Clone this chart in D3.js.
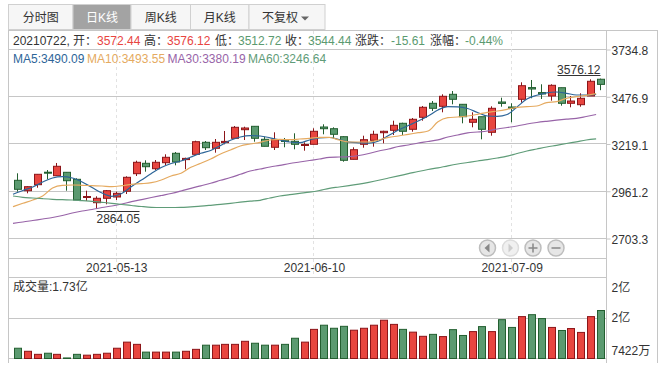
<!DOCTYPE html>
<html lang="zh">
<head>
<meta charset="UTF-8">
<title>K线图</title>
<script src="https://d3js.org/d3.v7.min.js"></script>
<style>
    body { margin: 0; background: #fff; }
    svg { display: block; }
    text { font-family: "Liberation Sans", "Noto Sans CJK SC", sans-serif; font-size: 12px; fill: #333; }
</style>
</head>
<body>
<div id="chart"></div>
<script>
const dates = ["2021-04-26","2021-04-27","2021-04-28","2021-04-29","2021-04-30","2021-05-06","2021-05-07","2021-05-10","2021-05-11","2021-05-12",
    "2021-05-13","2021-05-14","2021-05-17","2021-05-18","2021-05-19","2021-05-20","2021-05-21","2021-05-24","2021-05-25","2021-05-26",
    "2021-05-27","2021-05-28","2021-05-31","2021-06-01","2021-06-02","2021-06-03","2021-06-04","2021-06-07","2021-06-08","2021-06-09",
    "2021-06-10","2021-06-11","2021-06-15","2021-06-16","2021-06-17","2021-06-18","2021-06-21","2021-06-22","2021-06-23","2021-06-24",
    "2021-06-25","2021-06-28","2021-06-29","2021-06-30","2021-07-01","2021-07-02","2021-07-05","2021-07-06","2021-07-07","2021-07-08",
    "2021-07-09","2021-07-12","2021-07-13","2021-07-14","2021-07-15","2021-07-16","2021-07-19","2021-07-20","2021-07-21","2021-07-22"];

const open = [3020.9,2964.2,2997,3065.1,3046,3064.6,3026.4,2927,2898.7,2922.7,
    2929.8,2960.9,3057,3113.7,3084.2,3117,3168.3,3133.9,3162.8,3228.3,
    3195.6,3226.7,3250.2,3297.1,3315.6,3244.7,3201.1,3240.9,3233.8,3210.9,
    3217.4,3311.8,3302.5,3258.9,3135.5,3217.4,3239.2,3280.7,3293.8,3332,
    3299.3,3364.8,3441.2,3424.8,3490.3,3435.7,3337.5,3368,3282.9,3448.3,
    3421,3463,3526.9,3499.6,3481,3526.3,3441.2,3433.6,3481,3572.44];
const close = [2971.8,2986,3053.7,3059.7,3097.4,3018.7,2913.4,2932.5,2922.7,2964.2,
    2950,3037.3,3119.2,3095.1,3119.2,3146.5,3120.8,3140.5,3231.6,3198.9,
    3228.3,3233.3,3310.2,3306.4,3250.2,3206.5,3242.5,3232.7,3217.4,3216.3,
    3288.4,3302.5,3272,3130.1,3187.9,3242.5,3272,3288.4,3321.1,3288.4,
    3353.9,3419.4,3413.9,3479.4,3463,3368,3353.9,3299.3,3413.9,3440.6,
    3413.4,3537.2,3519.2,3492,3539.4,3441.2,3453.7,3468.5,3561.3,3544.44];
const high = [3059.1,2988,3053.7,3077.1,3115.4,3064.6,3031.9,2964.2,2933.6,2968,
    2958.7,3042.8,3127.9,3130.1,3131.7,3162.8,3175.4,3144.3,3237.1,3235.4,
    3246.3,3290,3317.3,3313.5,3315.6,3258.9,3282.9,3251.8,3277.4,3228.3,
    3304.7,3326.6,3310.2,3261.1,3201.1,3264.3,3291.6,3291.6,3346.2,3335.3,
    3361,3426.5,3453.7,3490.3,3508.3,3435.7,3392,3368,3424.8,3471.8,
    3441.2,3555.8,3568.4,3544.9,3544.9,3526.3,3481,3495.8,3572.2,3576.12];
const low = [2959.3,2950,2980.5,3026.4,3046,2964.2,2913.4,2908,2864.05,2889.9,
    2913.4,2946.1,3044.4,3067.9,3077.1,3104.4,3102.8,3081,3162.8,3186.3,
    3171.6,3217.4,3250.2,3240.9,3231.6,3206.5,3186.3,3201.1,3190.1,3182.5,
    3217.4,3272,3248,3122.5,3135.5,3198.9,3204.3,3222.9,3268.2,3268.2,
    3286.2,3346.2,3399.2,3392,3435.7,3332,3310.2,3244.7,3264.3,3422.6,
    3337.5,3444.5,3468.5,3464.7,3455.4,3428.1,3419.4,3422.6,3481,3512.72];

const ma5 = [2944.5,2965.3,2984.4,3011.6,3033.5,3040.6,3033.5,3011.6,2981.6,2951.6,
    2933.6,2948.9,2987.1,3022.6,3058,3090.8,3112.6,3126.3,3148.1,3168.3,
    3183.6,3210.9,3239.2,3257.3,3264.9,3262.7,3252.9,3240.9,3230,3226.1,
    3240.9,3252.9,3254.5,3243.6,3228.9,3225.6,3223.4,3235.4,3265.5,3295.5,
    3320,3344.6,3371.9,3404.6,3423.2,3422.1,3412.8,3391,3371.9,3370.2,
    3380.1,3421,3464.7,3484.9,3498.5,3502.9,3495.8,3486.5,3486.5,3490.09];
const ma10 = [2876.8,2895.4,2913.4,2935.2,2978.9,2993.6,2995.3,2993.6,2991.4,2989.8,
    2986,2991.4,2999.1,3002.4,3007.8,3022.6,3044.4,3059.1,3091.9,3113.7,
    3137.2,3164.5,3186.3,3208.1,3219.1,3228.3,3240.9,3244.7,3242.5,3246.3,
    3250.2,3255.6,3255.6,3240.9,3230,3230,3230,3240.9,3255.6,3262.7,
    3272,3280.7,3290,3340.8,3362.6,3366.4,3371.9,3381.2,3392.1,3399.2,
    3408.4,3419.4,3422.7,3426.5,3444.5,3449.9,3468.5,3477.2,3484.9,3493.55];
const ma30 = [2786.2,2793.3,2801.5,2809.7,2817.9,2828.8,2842.5,2853.4,2861.6,2872.5,
    2880.7,2891.6,2904.1,2915.6,2927,2938,2948.9,2962.5,2977.3,2990.9,
    3004.6,3021,3036.2,3053.7,3071.7,3082.6,3093.5,3102.8,3112.6,3120.8,
    3129,3137.2,3146.4,3148.1,3149.8,3156.3,3167.2,3180.8,3191.8,3205.4,
    3213.6,3224.5,3232.7,3242,3257.3,3268.2,3280.2,3284.5,3290,3300.9,
    3309.1,3317.3,3328.2,3336.4,3343,3349,3354.4,3358.8,3369.1,3380.19];
const ma60 = [2935.2,2928.2,2924.3,2920.5,2917.2,2915,2913.4,2909.6,2906.3,2900.9,
    2895.4,2888.9,2883.4,2877.9,2873.6,2872.5,2872.5,2873,2876.3,2879.6,
    2884.5,2889.9,2895.4,2901.4,2906.9,2911.8,2924.3,2935.2,2942.3,2949.4,
    2956,2965.2,2977.3,2984.4,2992,3000.2,3010,3021,3033.5,3045.5,
    3056.9,3069,3079.9,3089.2,3100.1,3109.9,3118.1,3126.3,3133.9,3142.6,
    3152.5,3167.2,3180.8,3191.8,3202.7,3212,3221.8,3231.1,3240.9,3246.64];

// 成交量, 单位亿
const volume = [.37,.26,.15,.19,.15,.02,.15,.12,.15,.19,
    .37,.59,.51,.23,.23,.23,.23,.26,.33,.48,
    .48,.51,.51,.62,.55,.48,.48,.51,.73,.59,
    1.05,1.2,1.09,1.16,1.02,1.09,1.2,1.38,1.23,1.05,
    .95,.8,.87,.79,1.04,.83,.97,1.15,.97,1.4,
    1.12,1.51,1.58,1.44,1.12,1.01,1.08,.94,1.51,1.73];

const priceTicks = [3734.8, 3476.9, 3219.1, 2961.2, 2703.3];
const volTicks = [2.92, 1.46, 0];
const volTickLabels = ["2亿", "2亿", "7422万"];
const volTickShift = [10, 0, -8];
const dateTicks = ["2021-05-13", "2021-06-10", "2021-07-09"];
const tabs = ["分时图", "日K线", "周K线", "月K线", "不复权"];
const infoLabels = ["开：", "高：", "低：", "收：", "涨跌：", "涨幅："];
const infoValues = ["3572.44", "3576.12", "3512.72", "3544.44", "-15.61", "-0.44%"];
const maNames = ["MA5", "MA10", "MA30", "MA60"];
const maLatest = ["3490.09", "3493.55", "3380.19", "3246.64"];

const RED = "#e8453f", RED_DARK = "#8c1519", GREEN = "#5b9a70", GREEN_DARK = "#235f30";
const GRID = "#c6c6c6";
const maColors = ["#2d6598", "#e5aa60", "#9864a8", "#5f9c78"];

const svg = d3.select("#chart").append("svg").attr("width", 665).attr("height", 370);

const x = d3.scaleBand().domain(dates).range([13, 606]);
const xc = d => Math.floor(x(d) + x.bandwidth() / 2 - 0.5) + 0.5;
const y = d3.scaleLinear().domain([2703.3, 3734.8]).range([238.5, 49.5]);
const yVol = d3.scaleLinear().domain([0, 2.92]).range([358.5, 277.5]);
const crisp = v => Math.round(v - 0.5) + 0.5;

const hline = (yy, x1, x2) => svg.append("line").attr("x1", x1).attr("x2", x2)
    .attr("y1", yy).attr("y2", yy).attr("stroke", GRID);
const vline = (xx, y1, y2) => svg.append("line").attr("x1", xx).attr("x2", xx)
    .attr("y1", y1).attr("y2", y2).attr("stroke", GRID);

// tabs
const tabEdges = [8.5, 73, 131, 190.5, 249, 325];
tabs.forEach((t, i) => {
    svg.append("rect").attr("x", tabEdges[i]).attr("y", 4.5)
        .attr("width", tabEdges[i + 1] - tabEdges[i]).attr("height", 25)
        .attr("fill", i === 1 ? "#a3a3a3" : "#f6f6f6").attr("stroke", "#d0d0d0");
    svg.append("text").attr("x", i === 4 ? 280 : (tabEdges[i] + tabEdges[i + 1]) / 2).attr("y", 22)
        .attr("text-anchor", "middle").style("fill", i === 1 ? "#fff" : "#333").text(t);
});
svg.append("path").attr("d", "M301 16.5h8l-4 4z").attr("fill", "#666");

// frame
hline(30.5, 8.5, 658);
vline(8.5, 30, 363);
vline(606.5, 30, 363);
vline(657.5, 30, 363);
hline(258.5, 8.5, 606.5);

// grid + dashed verticals
priceTicks.forEach(v => hline(crisp(y(v)), 8.5, 606.5));
volTicks.forEach(v => hline(crisp(yVol(v)), 8.5, 606.5));
dateTicks.forEach(d => {
    svg.append("line").attr("x1", xc(d)).attr("x2", xc(d))
        .attr("y1", 31).attr("y2", 277).attr("stroke", "#e2e2e2").attr("stroke-dasharray", "3,3");
});

// axes
const yAxis = svg.append("g").attr("transform", "translate(606.5,0)")
    .call(d3.axisRight(y).tickValues(priceTicks).tickSize(4).tickPadding(0).tickFormat(d3.format(".1f")));
yAxis.select(".domain").remove();
yAxis.selectAll("line").attr("stroke", GRID);
yAxis.selectAll("text").attr("dy", "0.45em").attr("x", 5);

const volAxis = svg.append("g").attr("transform", "translate(606.5,0)")
    .call(d3.axisRight(yVol).tickValues(volTicks).tickSize(0).tickPadding(5).tickFormat((d, i) => volTickLabels[i]));
volAxis.select(".domain").remove();
volAxis.selectAll("text").attr("y", (d, i) => volTickShift[i]);

const xAxis = svg.append("g").attr("transform", "translate(0,258.5)")
    .call(d3.axisBottom(x).tickValues(dateTicks).tickSize(0).tickPadding(5));
xAxis.select(".domain").remove();
xAxis.selectAll("text").attr("dy", "0.71em");

svg.selectAll("text").style("font-family", '"Liberation Sans", "Noto Sans CJK SC", sans-serif').style("font-size", "12px");
xAxis.selectAll("text").style("fill", "#333");
yAxis.selectAll("text").style("fill", "#333");
volAxis.selectAll("text").style("fill", "#333");

// candles
const up = i => close[i] >= open[i];
const candles = svg.append("g").selectAll("g").data(dates).join("g");
candles.append("line")
    .attr("x1", d => xc(d)).attr("x2", d => xc(d))
    .attr("y1", (d, i) => y(high[i])).attr("y2", (d, i) => y(low[i]))
    .attr("stroke", (d, i) => up(i) ? RED_DARK : GREEN_DARK);
candles.append("rect")
    .attr("x", d => xc(d) - 3).attr("width", 7)
    .attr("y", (d, i) => y(Math.max(open[i], close[i])))
    .attr("height", (d, i) => Math.abs(y(open[i]) - y(close[i])))
    .attr("fill", (d, i) => up(i) ? RED : GREEN)
    .attr("stroke", (d, i) => up(i) ? RED_DARK : GREEN_DARK);

// moving averages
const maLine = d3.line().x((d, i) => x(dates[i])).y(d => y(d)).curve(d3.curveMonotoneX);
[ma5, ma10, ma30, ma60].forEach((s, k) => {
    svg.append("path").attr("d", maLine(s)).attr("fill", "none")
        .attr("stroke", maColors[k]).attr("stroke-width", 1.2);
});

// volume
svg.append("g").selectAll("rect").data(dates).join("rect")
    .attr("x", d => xc(d) - 3).attr("width", 7)
    .attr("y", (d, i) => yVol(volume[i]))
    .attr("height", (d, i) => yVol(0) - yVol(volume[i]))
    .attr("fill", (d, i) => up(i) ? RED : GREEN)
    .attr("stroke", (d, i) => up(i) ? RED_DARK : GREEN_DARK);

// info row
svg.append("text").attr("x", 13).attr("y", 45).text("20210722,");
const labelX = [73, 144, 215, 285, 355, 430];
const valueX = [97, 167, 238, 308, 391, 465];
infoLabels.forEach((t, i) => {
    svg.append("text").attr("x", labelX[i]).attr("y", 45).text(t);
    svg.append("text").attr("x", valueX[i]).attr("y", 45)
        .style("fill", i < 2 ? "#e8453f" : "#5b9a70").text(infoValues[i]);
});

// MA legend
const maX = [13, 87, 167.5, 248];
maNames.forEach((n, i) => {
    svg.append("text").attr("x", maX[i]).attr("y", 62.5).style("fill", maColors[i]).text(n + ":" + maLatest[i]);
});

// high/low labels
const hiIdx = high.indexOf(d3.max(high)), loIdx = low.indexOf(d3.min(low));
const hiY = y(high[hiIdx]) - 3, loY = y(low[loIdx]) + 2;
svg.append("line").attr("x1", xc(dates[hiIdx]) - 43).attr("x2", xc(dates[hiIdx]))
    .attr("y1", crisp(hiY)).attr("y2", crisp(hiY)).attr("stroke", "#333");
svg.append("text").attr("x", xc(dates[hiIdx])).attr("y", hiY - 2).attr("text-anchor", "end").text(high[hiIdx].toFixed(2));
svg.append("line").attr("x1", xc(dates[loIdx])).attr("x2", xc(dates[loIdx]) + 43)
    .attr("y1", crisp(loY)).attr("y2", crisp(loY)).attr("stroke", "#333");
svg.append("text").attr("x", xc(dates[loIdx])).attr("y", loY + 12).text(low[loIdx].toFixed(2));

// zoom buttons
const btnX = [487.5, 510.5, 533, 556];
const btnG = svg.append("g");
btnX.forEach((bx, i) => {
    btnG.append("circle").attr("cx", bx).attr("cy", 248).attr("r", 8)
        .attr("fill", i === 1 ? "#f0f0f0" : "#e6e6e6").attr("stroke", i === 1 ? "#dcdcdc" : "#bdbdbd").attr("stroke-width", 1.5);
});
btnG.append("path").attr("d", "M484.5 248l5-4.5v9z").attr("fill", "#888");
btnG.append("path").attr("d", "M513 248l-4.5-4.5v9z").attr("fill", "#ccc");
btnG.append("path").attr("d", "M528.5 248h9M533 243.5v9M551.5 248h9").attr("stroke", "#888").attr("stroke-width", 1.5);

// volume label
svg.append("text").attr("x", 13).attr("y", 290.5).text("成交量:1.73亿");
</script>
</body>
</html>
